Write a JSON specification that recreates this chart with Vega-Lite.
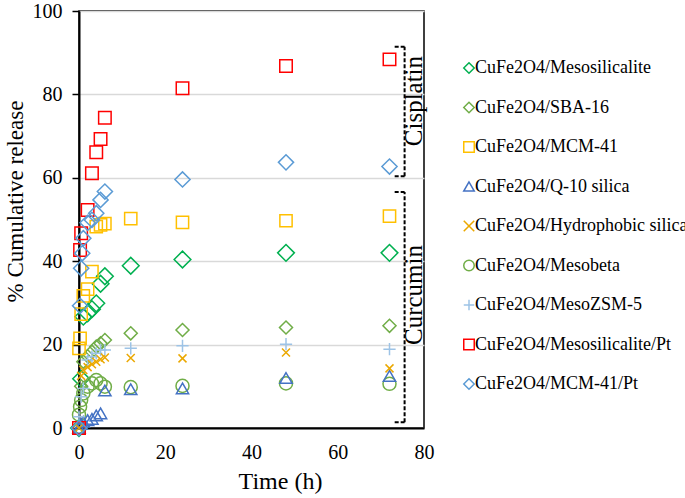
{
  "$schema": "https://vega.github.io/schema/vega-lite/v6.json",
  "width": 345,
  "height": 417,
  "autosize": {"type": "none"},
  "padding": {"left": 79, "top": 11, "right": 261, "bottom": 70},
  "background": "white",
  "config": {
    "font": "Liberation Serif",
    "view": {"stroke": "#000", "strokeWidth": 1.5},
    "axis": {"labelFont": "Liberation Serif", "titleFont": "Liberation Serif", "labelColor": "#000", "titleColor": "#000", "titleFontWeight": "normal", "domainColor": "#000", "domainWidth": 2, "labelFlush": false}
  },
  "datasets": {
    "pts": [
      {"s": "CuFe2O4/Mesosilicalite", "t": 0, "v": 0},
      {"s": "CuFe2O4/Mesosilicalite", "t": 0.5, "v": 11.8},
      {"s": "CuFe2O4/Mesosilicalite", "t": 1, "v": 26.7},
      {"s": "CuFe2O4/Mesosilicalite", "t": 2, "v": 27.5},
      {"s": "CuFe2O4/Mesosilicalite", "t": 3, "v": 28.5},
      {"s": "CuFe2O4/Mesosilicalite", "t": 4, "v": 29.9},
      {"s": "CuFe2O4/Mesosilicalite", "t": 5, "v": 34.6},
      {"s": "CuFe2O4/Mesosilicalite", "t": 6, "v": 36.4},
      {"s": "CuFe2O4/Mesosilicalite", "t": 12, "v": 38.9},
      {"s": "CuFe2O4/Mesosilicalite", "t": 24, "v": 40.4},
      {"s": "CuFe2O4/Mesosilicalite", "t": 48, "v": 42.0},
      {"s": "CuFe2O4/Mesosilicalite", "t": 72, "v": 42.0},
      {"s": "CuFe2O4/SBA-16", "t": 0, "v": 0},
      {"s": "CuFe2O4/SBA-16", "t": 0.5, "v": 10},
      {"s": "CuFe2O4/SBA-16", "t": 1, "v": 15.9},
      {"s": "CuFe2O4/SBA-16", "t": 2, "v": 17.2},
      {"s": "CuFe2O4/SBA-16", "t": 3, "v": 18.3},
      {"s": "CuFe2O4/SBA-16", "t": 4, "v": 19.5},
      {"s": "CuFe2O4/SBA-16", "t": 5, "v": 20.3},
      {"s": "CuFe2O4/SBA-16", "t": 6, "v": 21.1},
      {"s": "CuFe2O4/SBA-16", "t": 12, "v": 22.7},
      {"s": "CuFe2O4/SBA-16", "t": 24, "v": 23.5},
      {"s": "CuFe2O4/SBA-16", "t": 48, "v": 24.1},
      {"s": "CuFe2O4/SBA-16", "t": 72, "v": 24.5},
      {"s": "CuFe2O4/MCM-41", "t": 0, "v": 19.1},
      {"s": "CuFe2O4/MCM-41", "t": 0.25, "v": 21.5},
      {"s": "CuFe2O4/MCM-41", "t": 0.5, "v": 27.3},
      {"s": "CuFe2O4/MCM-41", "t": 1, "v": 31.7},
      {"s": "CuFe2O4/MCM-41", "t": 2, "v": 33.3},
      {"s": "CuFe2O4/MCM-41", "t": 3, "v": 37.5},
      {"s": "CuFe2O4/MCM-41", "t": 4, "v": 48.3},
      {"s": "CuFe2O4/MCM-41", "t": 5, "v": 48.7},
      {"s": "CuFe2O4/MCM-41", "t": 6, "v": 49.0},
      {"s": "CuFe2O4/MCM-41", "t": 12, "v": 50.2},
      {"s": "CuFe2O4/MCM-41", "t": 24, "v": 49.3},
      {"s": "CuFe2O4/MCM-41", "t": 48, "v": 49.7},
      {"s": "CuFe2O4/MCM-41", "t": 72, "v": 50.8},
      {"s": "CuFe2O4/Q-10 silica", "t": 0, "v": 0},
      {"s": "CuFe2O4/Q-10 silica", "t": 0.5, "v": 1},
      {"s": "CuFe2O4/Q-10 silica", "t": 1, "v": 1.5},
      {"s": "CuFe2O4/Q-10 silica", "t": 2, "v": 1.9},
      {"s": "CuFe2O4/Q-10 silica", "t": 3, "v": 2.2},
      {"s": "CuFe2O4/Q-10 silica", "t": 4, "v": 3.0},
      {"s": "CuFe2O4/Q-10 silica", "t": 5, "v": 3.5},
      {"s": "CuFe2O4/Q-10 silica", "t": 6, "v": 9.0},
      {"s": "CuFe2O4/Q-10 silica", "t": 12, "v": 9.3},
      {"s": "CuFe2O4/Q-10 silica", "t": 24, "v": 9.5},
      {"s": "CuFe2O4/Q-10 silica", "t": 48, "v": 12.0},
      {"s": "CuFe2O4/Q-10 silica", "t": 72, "v": 12.5},
      {"s": "CuFe2O4/Hydrophobic silica", "t": 0, "v": 0},
      {"s": "CuFe2O4/Hydrophobic silica", "t": 0.5, "v": 12.5},
      {"s": "CuFe2O4/Hydrophobic silica", "t": 1, "v": 13.9},
      {"s": "CuFe2O4/Hydrophobic silica", "t": 2, "v": 14.6},
      {"s": "CuFe2O4/Hydrophobic silica", "t": 3, "v": 15.3},
      {"s": "CuFe2O4/Hydrophobic silica", "t": 4, "v": 15.9},
      {"s": "CuFe2O4/Hydrophobic silica", "t": 5, "v": 16.5},
      {"s": "CuFe2O4/Hydrophobic silica", "t": 6, "v": 16.9},
      {"s": "CuFe2O4/Hydrophobic silica", "t": 12, "v": 16.8},
      {"s": "CuFe2O4/Hydrophobic silica", "t": 24, "v": 16.7},
      {"s": "CuFe2O4/Hydrophobic silica", "t": 48, "v": 18.1},
      {"s": "CuFe2O4/Hydrophobic silica", "t": 72, "v": 14.3},
      {"s": "CuFe2O4/Mesobeta", "t": 0, "v": 3.2},
      {"s": "CuFe2O4/Mesobeta", "t": 0.25, "v": 5.1},
      {"s": "CuFe2O4/Mesobeta", "t": 0.5, "v": 6.7},
      {"s": "CuFe2O4/Mesobeta", "t": 1, "v": 8.3},
      {"s": "CuFe2O4/Mesobeta", "t": 2, "v": 9.9},
      {"s": "CuFe2O4/Mesobeta", "t": 3, "v": 10.7},
      {"s": "CuFe2O4/Mesobeta", "t": 4, "v": 11.5},
      {"s": "CuFe2O4/Mesobeta", "t": 5, "v": 10.7},
      {"s": "CuFe2O4/Mesobeta", "t": 6, "v": 9.9},
      {"s": "CuFe2O4/Mesobeta", "t": 12, "v": 9.8},
      {"s": "CuFe2O4/Mesobeta", "t": 24, "v": 10.1},
      {"s": "CuFe2O4/Mesobeta", "t": 48, "v": 10.7},
      {"s": "CuFe2O4/Mesobeta", "t": 72, "v": 10.6},
      {"s": "CuFe2O4/MesoZSM-5", "t": 0, "v": 2.7},
      {"s": "CuFe2O4/MesoZSM-5", "t": 0.5, "v": 7.5},
      {"s": "CuFe2O4/MesoZSM-5", "t": 1, "v": 9.5},
      {"s": "CuFe2O4/MesoZSM-5", "t": 2, "v": 16.3},
      {"s": "CuFe2O4/MesoZSM-5", "t": 3, "v": 17.1},
      {"s": "CuFe2O4/MesoZSM-5", "t": 4, "v": 17.9},
      {"s": "CuFe2O4/MesoZSM-5", "t": 5, "v": 18.7},
      {"s": "CuFe2O4/MesoZSM-5", "t": 6, "v": 18.7},
      {"s": "CuFe2O4/MesoZSM-5", "t": 12, "v": 19.1},
      {"s": "CuFe2O4/MesoZSM-5", "t": 24, "v": 19.7},
      {"s": "CuFe2O4/MesoZSM-5", "t": 48, "v": 20.1},
      {"s": "CuFe2O4/MesoZSM-5", "t": 72, "v": 18.9},
      {"s": "CuFe2O4/Mesosilicalite/Pt", "t": 0, "v": 0},
      {"s": "CuFe2O4/Mesosilicalite/Pt", "t": 0.25, "v": 42.7},
      {"s": "CuFe2O4/Mesosilicalite/Pt", "t": 0.5, "v": 46.7},
      {"s": "CuFe2O4/Mesosilicalite/Pt", "t": 2, "v": 52.3},
      {"s": "CuFe2O4/Mesosilicalite/Pt", "t": 3, "v": 61.1},
      {"s": "CuFe2O4/Mesosilicalite/Pt", "t": 4, "v": 66.1},
      {"s": "CuFe2O4/Mesosilicalite/Pt", "t": 5, "v": 69.3},
      {"s": "CuFe2O4/Mesosilicalite/Pt", "t": 6, "v": 74.4},
      {"s": "CuFe2O4/Mesosilicalite/Pt", "t": 24, "v": 81.5},
      {"s": "CuFe2O4/Mesosilicalite/Pt", "t": 48, "v": 86.8},
      {"s": "CuFe2O4/Mesosilicalite/Pt", "t": 72, "v": 88.4},
      {"s": "CuFe2O4/MCM-41/Pt", "t": 0, "v": 0},
      {"s": "CuFe2O4/MCM-41/Pt", "t": 0.25, "v": 29.3},
      {"s": "CuFe2O4/MCM-41/Pt", "t": 0.5, "v": 38.3},
      {"s": "CuFe2O4/MCM-41/Pt", "t": 0.75, "v": 41.9},
      {"s": "CuFe2O4/MCM-41/Pt", "t": 1, "v": 45.5},
      {"s": "CuFe2O4/MCM-41/Pt", "t": 2, "v": 49.2},
      {"s": "CuFe2O4/MCM-41/Pt", "t": 3, "v": 49.9},
      {"s": "CuFe2O4/MCM-41/Pt", "t": 4, "v": 51.5},
      {"s": "CuFe2O4/MCM-41/Pt", "t": 5, "v": 54.7},
      {"s": "CuFe2O4/MCM-41/Pt", "t": 6, "v": 56.7},
      {"s": "CuFe2O4/MCM-41/Pt", "t": 24, "v": 59.6},
      {"s": "CuFe2O4/MCM-41/Pt", "t": 48, "v": 63.7},
      {"s": "CuFe2O4/MCM-41/Pt", "t": 72, "v": 62.7}
    ],
    "brackets": [
      {"x1": 75.5, "x2": 75.5, "y1": 60.4, "y2": 91.4},
      {"x1": 73.2, "x2": 75.5, "y1": 91.4, "y2": 91.4},
      {"x1": 73.2, "x2": 75.5, "y1": 60.4, "y2": 60.4},
      {"x1": 75.5, "x2": 75.5, "y1": 1.4, "y2": 56.6},
      {"x1": 73.2, "x2": 75.5, "y1": 56.6, "y2": 56.6},
      {"x1": 73.2, "x2": 75.5, "y1": 1.4, "y2": 1.4}
    ],
    "labels": [
      {"x": 79.6, "y": 78.4, "label": "Cisplatin"},
      {"x": 79.6, "y": 31.9, "label": "Curcumin"}
    ]
  },
  "layer": [
    {
      "data": {"name": "pts"},
      "encoding": {
        "x": {"field": "t", "type": "quantitative", "title": "Time (h)", "scale": {"domain": [0, 80], "nice": false, "zero": false, "padding": 0},
          "axis": {"values": [0, 20, 40, 60, 80], "grid": false, "ticks": false, "tickSize": 0, "labelFontSize": 20, "labelPadding": 14, "labelFlush": false, "titleFontSize": 24, "titleFontWeight": "normal", "titleX": 201, "titleY": 60, "titleBaseline": "alphabetic", "titleAlign": "center"}},
        "y": {"field": "v", "type": "quantitative", "title": "% Cumulative release", "scale": {"domain": [0, 100], "nice": false, "zero": false, "padding": 0},
          "axis": {"values": [0, 20, 40, 60, 80, 100], "grid": true, "gridColor": "#d9d9d9", "gridWidth": 1.5, "tickSize": 7, "tickColor": "#000", "tickWidth": 1.5, "labelFontSize": 20, "labelPadding": 10, "labelFlush": false, "titleFontSize": 23, "titleFontWeight": "normal", "titleX": -57, "titleY": 190, "titleAngle": 270, "titleBaseline": "alphabetic", "titleAlign": "center"}},
        "color": {"field": "s", "type": "nominal",
          "scale": {"domain": ["CuFe2O4/Mesosilicalite", "CuFe2O4/SBA-16", "CuFe2O4/MCM-41", "CuFe2O4/Q-10 silica", "CuFe2O4/Hydrophobic silica", "CuFe2O4/Mesobeta", "CuFe2O4/MesoZSM-5", "CuFe2O4/Mesosilicalite/Pt", "CuFe2O4/MCM-41/Pt"],
            "range": ["#00B050", "#70AD47", "#FFC000", "#4472C4", "#EBA800", "#70AD47", "#9DC3E6", "#FF0000", "#5B9BD5"]},
          "legend": {"orient": "none", "legendX": 381, "legendY": 48, "title": null, "labelFontSize": 18, "labelFont": "Liberation Serif", "labelColor": "#000", "labelLimit": 400, "symbolSize": 110, "symbolStrokeWidth": 1.5, "rowPadding": 21.5, "labelOffset": -3, "padding": 0}},
        "shape": {"field": "s", "type": "nominal",
          "scale": {"domain": ["CuFe2O4/Mesosilicalite", "CuFe2O4/SBA-16", "CuFe2O4/MCM-41", "CuFe2O4/Q-10 silica", "CuFe2O4/Hydrophobic silica", "CuFe2O4/Mesobeta", "CuFe2O4/MesoZSM-5", "CuFe2O4/Mesosilicalite/Pt", "CuFe2O4/MCM-41/Pt"],
            "range": ["diamond", "diamond", "square", "triangle-up", "M-1,-1L1,1M-1,1L1,-1", "circle", "M-1,0L1,0M0,-1L0,1", "square", "diamond"]}}
      },
      "layer": [
        {
          "transform": [{"filter": {"field": "s", "oneOf": ["CuFe2O4/Mesosilicalite"]}}],
          "mark": {"type": "point", "filled": false, "strokeWidth": 1.5, "opacity": 1, "size": 280}
        },
        {
          "transform": [{"filter": {"field": "s", "oneOf": ["CuFe2O4/SBA-16", "CuFe2O4/Mesobeta"]}}],
          "mark": {"type": "point", "filled": false, "strokeWidth": 1.5, "opacity": 1, "size": 170}
        },
        {
          "transform": [{"filter": {"field": "s", "oneOf": ["CuFe2O4/MCM-41", "CuFe2O4/Q-10 silica", "CuFe2O4/MesoZSM-5"]}}],
          "mark": {"type": "point", "filled": false, "strokeWidth": 1.5, "opacity": 1, "size": 150}
        },
        {
          "transform": [{"filter": {"field": "s", "oneOf": ["CuFe2O4/Hydrophobic silica"]}}],
          "mark": {"type": "point", "filled": false, "strokeWidth": 1.5, "opacity": 1, "size": 64}
        },
        {
          "transform": [{"filter": {"field": "s", "oneOf": ["CuFe2O4/Mesosilicalite/Pt"]}}],
          "mark": {"type": "point", "filled": false, "strokeWidth": 1.5, "opacity": 1, "size": 156}
        },
        {
          "transform": [{"filter": {"field": "s", "oneOf": ["CuFe2O4/MCM-41/Pt"]}}],
          "mark": {"type": "point", "filled": false, "strokeWidth": 1.5, "opacity": 1, "size": 230}
        }
      ]
    },
    {
      "data": {"name": "brackets"},
      "mark": {"type": "rule", "color": "#000", "strokeWidth": 2, "strokeDash": [4, 2]},
      "encoding": {
        "x": {"field": "x1", "type": "quantitative", "title": "Time (h)", "scale": {"domain": [0, 80], "nice": false, "zero": false, "padding": 0}},
        "x2": {"field": "x2"},
        "y": {"field": "y1", "type": "quantitative", "title": "% Cumulative release", "scale": {"domain": [0, 100], "nice": false, "zero": false, "padding": 0}},
        "y2": {"field": "y2"}
      }
    },
    {
      "data": {"name": "labels"},
      "mark": {"type": "text", "angle": 270, "baseline": "alphabetic", "align": "center", "font": "Liberation Serif", "fontSize": 25, "color": "#000"},
      "encoding": {
        "x": {"field": "x", "type": "quantitative", "title": "Time (h)", "scale": {"domain": [0, 80], "nice": false, "zero": false, "padding": 0}},
        "y": {"field": "y", "type": "quantitative", "title": "% Cumulative release", "scale": {"domain": [0, 100], "nice": false, "zero": false, "padding": 0}},
        "text": {"field": "label"}
      }
    }
  ]
}
